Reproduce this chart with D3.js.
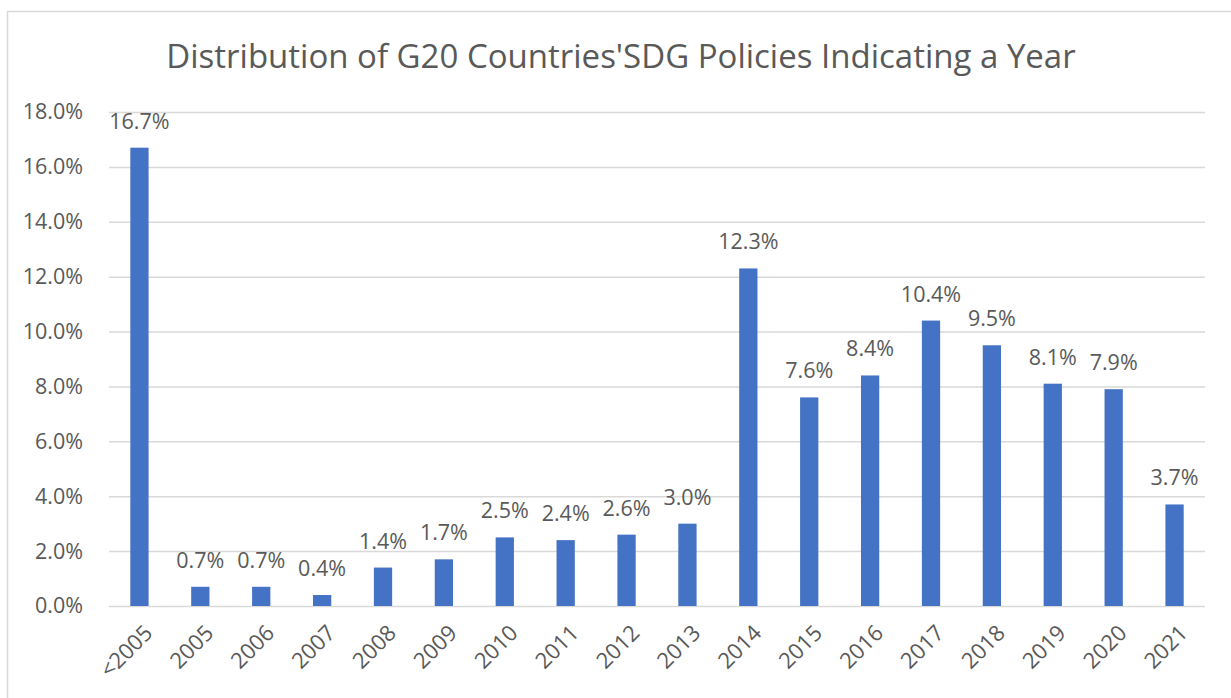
<!DOCTYPE html>
<html>
<head>
<meta charset="utf-8">
<script src="https://cdn.jsdelivr.net/npm/d3@7"></script>
<style>
  html, body { margin: 0; padding: 0; background: #fff; }
  svg { display: block; }
  text { font-family: "Open Sans", sans-serif; fill: #595959; }
</style>
</head>
<body>
<svg id="chart" width="1231" height="698"></svg>
<script>
const title = "Distribution of G20 Countries'SDG Policies Indicating a Year";
const categories = ["<2005","2005","2006","2007","2008","2009","2010","2011","2012","2013","2014","2015","2016","2017","2018","2019","2020","2021"];
const values = [16.7, 0.7, 0.7, 0.4, 1.4, 1.7, 2.5, 2.4, 2.6, 3.0, 12.3, 7.6, 8.4, 10.4, 9.5, 8.1, 7.9, 3.7];
const yTicks = [0, 2, 4, 6, 8, 10, 12, 14, 16, 18];

const svg = d3.select("#chart");
const W = 1231, H = 698;
const margin = { left: 109, right: W - 1205, top: 112, bottom: H - 606 };
const fs = 21.5;

// outer chart border
svg.append("rect")
  .attr("x", 7.5).attr("y", 11.5)
  .attr("width", W + 10).attr("height", H + 10)
  .attr("fill", "#fff").attr("stroke", "#d9d9d9").attr("stroke-width", 1.5);

const x = d3.scaleBand().domain(categories)
  .range([margin.left, W - margin.right])
  .paddingInner(0.7).paddingOuter(0.35);
const y = d3.scaleLinear().domain([0, 18]).range([H - margin.bottom, margin.top]);

// gridlines
const yAxis = d3.axisLeft(y).tickValues(yTicks)
  .tickSize(-(W - margin.right - margin.left))
  .tickFormat(d => d.toFixed(1) + "%")
  .tickPadding(26);
const gy = svg.append("g").attr("transform", `translate(${margin.left},0)`).call(yAxis);
gy.select(".domain").remove();
gy.selectAll(".tick line").attr("stroke", "#d9d9d9").attr("stroke-width", 1.5);
gy.selectAll(".tick text").attr("font-size", fs).attr("fill", "#595959")
  .attr("font-family", "Open Sans, sans-serif");

// bars
svg.append("g").selectAll("rect").data(values).join("rect")
  .attr("x", (d, i) => x(categories[i]))
  .attr("width", x.bandwidth())
  .attr("y", d => y(d))
  .attr("height", d => y(0) - y(d))
  .attr("fill", "#4472C4");

// data labels
svg.append("g").selectAll("text").data(values).join("text")
  .attr("x", (d, i) => x(categories[i]) + x.bandwidth() / 2)
  .attr("y", d => y(d) - 19)
  .attr("text-anchor", "middle")
  .attr("font-size", fs)
  .text(d => d.toFixed(1) + "%");

// x axis labels
const xAxis = d3.axisBottom(x).tickSize(0).tickPadding(0);
const gx = svg.append("g").attr("transform", `translate(0,${H - margin.bottom})`).call(xAxis);
gx.select(".domain").remove();
gx.selectAll(".tick text")
  .attr("font-size", fs + 0.5).attr("fill", "#595959")
  .attr("font-family", "Open Sans, sans-serif")
  .attr("text-anchor", "end")
  .attr("dy", "0.35em")
  .attr("y", 0)
  .attr("transform", "translate(9,23) rotate(-45)");

// title
const t = svg.append("text")
  .attr("x", 621).attr("y", 68)
  .attr("text-anchor", "middle")
  .attr("font-size", 33)
  .text(title);
const len = t.node().getComputedTextLength();
if (len > 910) t.attr("font-size", 33 * 910 / len);
</script>
</body>
</html>
